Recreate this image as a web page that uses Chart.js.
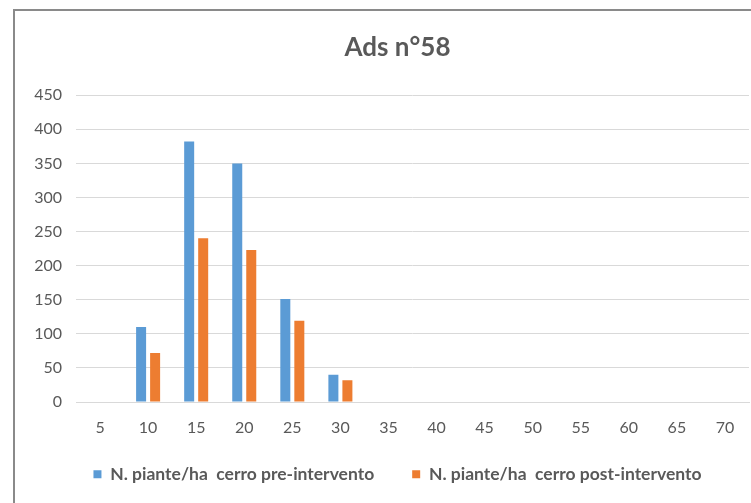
<!DOCTYPE html>
<html>
<head>
<meta charset="utf-8">
<script src="https://cdn.jsdelivr.net/npm/chart.js@4.4.0/dist/chart.umd.min.js"></script>
<style>
  html, body { margin: 0; padding: 0; background: #ffffff; }
  #wrap { position: relative; width: 751px; height: 503px; overflow: hidden; }
  #frame { position: absolute; left: 13px; top: 9px; width: 760px; height: 520px;
           border-left: 2px solid #8a8a8a; border-top: 2px solid #8a8a8a; box-sizing: border-box; }
  #box { position: absolute; left: 0; top: 0; width: 765px; height: 503px; }
</style>
</head>
<body>
<div id="wrap">
  <div id="frame"></div>
  <div id="box"><canvas id="c"></canvas></div>
</div>
<script>
const categories = ['5','10','15','20','25','30','35','40','45','50','55','60','65','70'];
const preIntervento = [0, 110, 382, 350, 151, 40, 0, 0, 0, 0, 0, 0, 0, 0];
const postIntervento = [0, 72, 240, 223, 119, 32, 0, 0, 0, 0, 0, 0, 0, 0];
const yTicks = [0, 50, 100, 150, 200, 250, 300, 350, 400, 450];
const titleText = 'Ads n°58';
const seriesNames = ['N. piante/ha  cerro pre-intervento', 'N. piante/ha  cerro post-intervento'];

const FONT = 'Lato, "Liberation Sans", sans-serif';
const GREY = '#595959';
const PAD_LEFT = 32;

new Chart(document.getElementById('c'), {
  type: 'bar',
  data: {
    labels: categories,
    datasets: [
      { label: seriesNames[0], data: preIntervento, backgroundColor: '#5B9BD5',
        categoryPercentage: 0.583, barPercentage: 0.714 },
      { label: seriesNames[1], data: postIntervento, backgroundColor: '#ED7D31',
        categoryPercentage: 0.583, barPercentage: 0.714 }
    ]
  },
  options: {
    responsive: true,
    maintainAspectRatio: false,
    animation: false,
    layout: { padding: { left: PAD_LEFT, right: 2, top: 0, bottom: 10 } },
    plugins: {
      title: {
        display: true, text: titleText, color: GREY,
        font: { family: FONT, size: 26, weight: 'bold' },
        padding: { top: 32, bottom: 32 }
      },
      legend: {
        position: 'bottom',
        labels: {
          color: GREY, boxWidth: 8, boxHeight: 8, padding: 38,
          font: { family: FONT, size: 17.5, weight: 'bold' }
        }
      },
      tooltip: { enabled: false }
    },
    scales: {
      x: {
        afterFit: (s) => { s.height = 25.5; },
        grid: { display: false, drawTicks: false },
        border: { display: true, color: '#d9d9d9', width: 1 },
        ticks: { color: GREY, font: { family: FONT, size: 16 }, mirror: true, padding: -35,
                 maxRotation: 0, autoSkip: false }
      },
      y: {
        min: 0, max: 450,
        afterBuildTicks: (s) => { s.ticks = yTicks.map(v => ({ value: v })); },
        afterFit: (s) => { s.width = 76 - PAD_LEFT; },
        grid: { color: '#d9d9d9', drawTicks: false },
        border: { display: false },
        ticks: { color: GREY, font: { family: FONT, size: 16 }, padding: 14 }
      },
      ySpacer: {
        position: 'right',
        afterFit: (s) => { s.width = 14; },
        grid: { display: false, drawTicks: false },
        border: { display: false },
        ticks: { display: false }
      }
    }
  }
});
</script>
</body>
</html>
